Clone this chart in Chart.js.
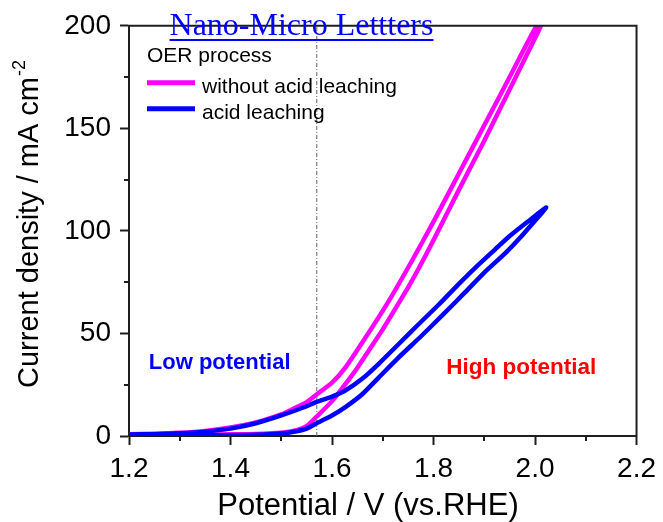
<!DOCTYPE html>
<html>
<head>
<meta charset="utf-8">
<script src="https://cdn.jsdelivr.net/npm/chart.js@4/dist/chart.umd.min.js"></script>
<style>
  html, body { margin: 0; padding: 0; background: #fff; }
  #wrap { width: 663px; height: 522px; position: relative; }
  canvas { display: block; }
</style>
</head>
<body>
<div id="wrap"><canvas id="cv" width="663" height="522"></canvas></div>
<script>
// Axis ticks
const potentialTicks = [1.2, 1.4, 1.6, 1.8, 2.0, 2.2];
const potentialMinor = [1.3, 1.5, 1.7, 1.9, 2.1];
const currentTicks = [0, 50, 100, 150, 200];
const currentMinor = [25, 75, 125, 175];

// Reference potential (dash-dot line), V vs RHE
const markerPotential = 1.57;

// Without acid leaching: anodic sweep
const noLeachFwdV = [1.20, 1.25, 1.30, 1.35, 1.40, 1.45, 1.50, 1.53, 1.55, 1.57, 1.60, 1.627, 1.65, 1.672, 1.70, 1.718, 1.75, 1.771, 1.80, 1.85, 1.90, 1.95, 2.00, 2.012];
const noLeachFwdJ = [0.6, 0.6, 0.7, 0.7, 0.8, 1.0, 1.6, 2.8, 4.8, 9.5, 17, 25.5, 33.3, 41.5, 52, 59.3, 72.5, 81.8, 95.5, 120, 144, 169, 194, 200.5];
// Without acid leaching: return sweep
const noLeachRevV = [2.003, 1.95, 1.90, 1.85, 1.80, 1.757, 1.712, 1.666, 1.627, 1.60, 1.571, 1.55, 1.52, 1.50, 1.45, 1.40, 1.35, 1.30, 1.25, 1.20];
const noLeachRevJ = [200, 175, 151.5, 128, 104.5, 85.2, 65.9, 48, 33.6, 26, 20.5, 16.5, 12.8, 10.5, 6.6, 4.1, 2.5, 1.6, 1.1, 0.9];

// Acid leaching: anodic sweep
const leachFwdV = [1.20, 1.30, 1.40, 1.45, 1.50, 1.53, 1.55, 1.571, 1.60, 1.627, 1.66, 1.692, 1.73, 1.777, 1.82, 1.862, 1.90, 1.941, 1.97, 1.993, 2.022];
const leachFwdJ = [0.3, 0.3, 0.4, 0.6, 1.2, 2.3, 3.6, 6.4, 10, 14.2, 20.5, 28.5, 38, 49, 59.5, 70, 79.7, 89, 96.5, 103, 111.4];
// Acid leaching: return sweep
const leachRevV = [1.986, 1.95, 1.921, 1.88, 1.849, 1.81, 1.771, 1.73, 1.692, 1.66, 1.627, 1.60, 1.571, 1.55, 1.50, 1.45, 1.40, 1.35, 1.30, 1.25, 1.20];
const leachRevJ = [104.6, 97.5, 90.9, 81.5, 73.9, 64, 54.6, 44.5, 35.2, 28, 22.3, 19.2, 16.8, 14.5, 10, 6.2, 3.6, 2.1, 1.3, 0.9, 0.7];

const toPoints = (xs, ys) => xs.map((x, i) => ({ x, y: ys[i] }));
const loop = (fv, fj, rv, rj) => toPoints(fv, fj).concat(toPoints(rv, rj));

const SANS = "'Liberation Sans', Arial, Helvetica, sans-serif";
const SERIF = "'Liberation Serif', 'Times New Roman', serif";
Chart.defaults.font.family = SANS;
Chart.defaults.color = '#000';

const AXIS_COLOR = '#1e1e1e';

// Frame, minor ticks, axis titles, legend and annotations
const decorPlugin = {
  id: 'decor',
  afterDraw(chart) {
    const { ctx, chartArea: a, scales } = chart;
    const xs = scales.x, ys = scales.y;
    ctx.save();

    // top and right frame lines
    ctx.strokeStyle = AXIS_COLOR;
    ctx.lineWidth = 2;
    ctx.beginPath();
    ctx.moveTo(a.left - 1, a.top);
    ctx.lineTo(a.right, a.top);
    ctx.lineTo(a.right, a.bottom + 1);
    ctx.stroke();

    // minor ticks
    ctx.beginPath();
    potentialMinor.forEach(v => {
      const px = Math.round(xs.getPixelForValue(v));
      ctx.moveTo(px, a.bottom);
      ctx.lineTo(px, a.bottom + 5);
    });
    currentMinor.forEach(v => {
      const py = Math.round(ys.getPixelForValue(v));
      ctx.moveTo(a.left - 5, py);
      ctx.lineTo(a.left, py);
    });
    ctx.stroke();

    // x-axis title
    ctx.fillStyle = '#000';
    ctx.font = '31px ' + SANS;
    ctx.textAlign = 'center';
    ctx.textBaseline = 'middle';
    ctx.fillText('Potential / V (vs.RHE)', 368, 506.5);

    // y-axis title with superscript
    ctx.translate(38, ys.getPixelForValue(0) - 48);
    ctx.rotate(-Math.PI / 2);
    ctx.font = '29px ' + SANS;
    ctx.textAlign = 'left';
    ctx.textBaseline = 'alphabetic';
    const main = 'Current density / mA cm';
    ctx.fillText(main, 0, 0);
    const w = ctx.measureText(main).width;
    ctx.font = '18px ' + SANS;
    ctx.fillText('-2', w + 1, -13);
    ctx.setTransform(1, 0, 0, 1, 0, 0);

    // legend
    const lx = a.left + 18;
    ctx.font = '21px ' + SANS;
    ctx.fillStyle = '#000';
    ctx.fillText('OER process', lx, a.top + 36);
    const items = chart.data.datasets.filter(d => d.legend);
    items.forEach((d, i) => {
      const base = a.top + 67 + i * 26;
      ctx.strokeStyle = d.borderColor;
      ctx.lineWidth = 5;
      ctx.lineCap = 'butt';
      ctx.beginPath();
      ctx.moveTo(lx, base - 10);
      ctx.lineTo(lx + 48, base - 10);
      ctx.stroke();
      ctx.fillStyle = '#000';
      ctx.fillText(d.label, lx + 55, base);
    });

    // region annotations
    ctx.font = 'bold 22px ' + SANS;
    ctx.fillStyle = '#0000ff';
    ctx.fillText('Low potential', xs.getPixelForValue(1.239), ys.getPixelForValue(32.9));
    ctx.fillStyle = '#ff0000';
    ctx.font = 'bold 22.5px ' + SANS;
    ctx.fillText('High potential', xs.getPixelForValue(1.825), ys.getPixelForValue(30.3));

    // journal banner
    ctx.font = '32px ' + SERIF;
    ctx.fillStyle = '#0000ff';
    const t = 'Nano-Micro Lettters';
    const tw = ctx.measureText(t).width;
    const tx = 301.5 - tw / 2;
    ctx.fillText(t, tx, 35);
    ctx.fillRect(tx, 39, tw, 2);

    ctx.restore();
  }
};

new Chart(document.getElementById('cv'), {
  type: 'scatter',
  data: {
    datasets: [
      {
        label: 'without acid leaching',
        legend: true,
        data: loop(noLeachFwdV, noLeachFwdJ, noLeachRevV, noLeachRevJ),
        showLine: true,
        borderColor: '#ff00ff',
        borderWidth: 4.5,
        pointRadius: 0,
        tension: 0.2,
        clip: 0,
        order: 1
      },
      {
        label: 'acid leaching',
        legend: true,
        data: loop(leachFwdV, leachFwdJ, leachRevV, leachRevJ),
        showLine: true,
        borderColor: '#0000ff',
        borderWidth: 4.5,
        pointRadius: 0,
        tension: 0.2,
        clip: 0,
        order: 0
      },
      {
        label: 'marker',
        data: [{ x: markerPotential, y: currentTicks[0] }, { x: markerPotential, y: currentTicks[currentTicks.length - 1] }],
        showLine: true,
        borderColor: '#666',
        borderWidth: 1,
        borderDash: [4, 2, 1, 2],
        pointRadius: 0,
        clip: 0,
        order: 2
      }
    ]
  },
  options: {
    responsive: false,
    animation: false,
    events: [],
    layout: { padding: { left: 0, right: 24, top: 23, bottom: 0 } },
    plugins: {
      legend: { display: false },
      tooltip: { enabled: false },
      title: { display: false }
    },
    scales: {
      x: {
        type: 'linear',
        min: potentialTicks[0],
        max: potentialTicks[potentialTicks.length - 1],
        afterBuildTicks: s => { s.ticks = potentialTicks.map(v => ({ value: v })); },
        afterFit: s => { s.height = 86; },
        ticks: {
          callback: v => Number(v).toFixed(1),
          font: { size: 28, lineHeight: 1.2 },
          color: '#000',
          padding: 7,
          maxRotation: 0,
          autoSkip: false
        },
        grid: { drawOnChartArea: false, drawTicks: true, tickLength: 9, tickWidth: 2, tickColor: AXIS_COLOR },
        border: { display: true, color: AXIS_COLOR, width: 2 }
      },
      y: {
        type: 'linear',
        min: currentTicks[0],
        max: currentTicks[currentTicks.length - 1],
        afterBuildTicks: s => { s.ticks = currentTicks.map(v => ({ value: v })); },
        afterFit: s => { s.width = 129; },
        ticks: {
          font: { size: 28 },
          color: '#000',
          padding: 9
        },
        grid: { drawOnChartArea: false, drawTicks: true, tickLength: 9, tickWidth: 2, tickColor: AXIS_COLOR },
        border: { display: true, color: AXIS_COLOR, width: 2 }
      }
    }
  },
  plugins: [decorPlugin]
});
</script>
</body>
</html>
